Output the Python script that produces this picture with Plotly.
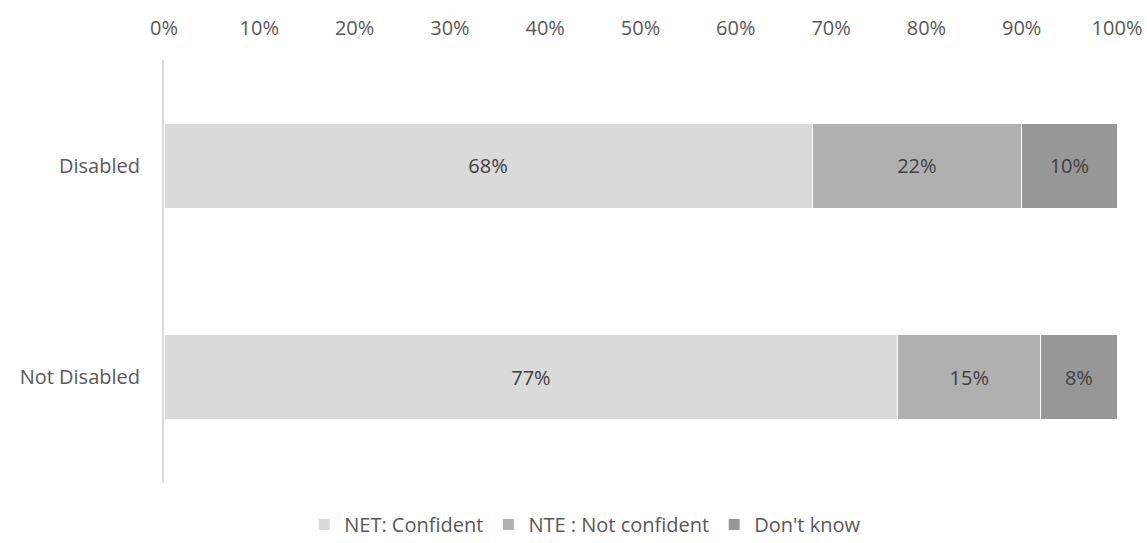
import plotly.graph_objects as go

groups = ["Disabled", "Not Disabled"]
series_names = ["NET: Confident", "NTE : Not confident", "Don't know"]
confident = [68, 77]
not_confident = [22, 15]
dont_know = [10, 8]
colors = ["#dadada", "#b0b0b0", "#979797"]

fig = go.Figure()
for name, vals, col in zip(series_names, [confident, not_confident, dont_know], colors):
    fig.add_trace(go.Bar(
        y=groups, x=vals, name=name, orientation="h",
        marker=dict(color=col, line=dict(color="white", width=1)),
        text=[f"{v}%" for v in vals], textposition="inside",
        insidetextanchor="middle",
        textfont=dict(color="#404040", size=20),
    ))

fig.update_layout(
    barmode="stack",
    bargap=0.6,
    width=1147, height=543,
    margin=dict(l=164, r=30, t=60, b=60, autoexpand=False),
    paper_bgcolor="white", plot_bgcolor="white",
    font=dict(family="Open Sans", size=20, color="#595959"),
    legend=dict(orientation="h", x=0.442, xanchor="center", y=-0.098, yanchor="middle",
                font=dict(size=20, color="#595959"), traceorder="normal",
                itemwidth=30),
    uniformtext=dict(minsize=10, mode="show"),
)
fig.update_xaxes(side="top", range=[0, 100], dtick=10, ticksuffix="%",
                 showgrid=False, zeroline=False, showline=False, ticks="",
                 ticklabelstandoff=20, automargin=False)
fig.update_yaxes(autorange="reversed", showgrid=False, showline=True,
                 linecolor="#d9d9d9", linewidth=2, ticks="",
                 ticklabelstandoff=18, automargin=False)

# drop the default page margin so the figure sits at the window origin
fig.write_html("out.html", config={"displayModeBar": False},
               post_script="document.body.style.margin='0';")
